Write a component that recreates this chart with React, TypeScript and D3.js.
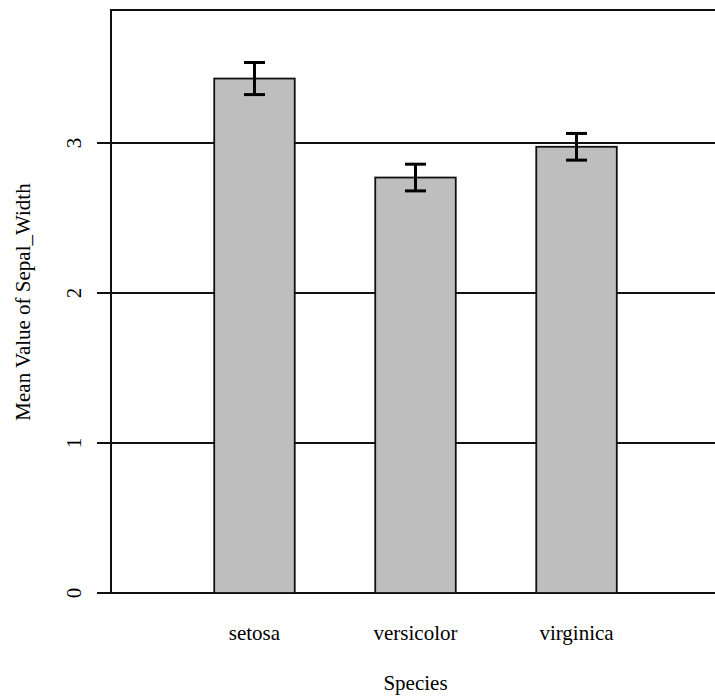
import React, { useEffect, useRef } from "react";
import * as d3 from "d3";

const species = ["setosa", "versicolor", "virginica"];
const meanSepalWidth = [3.43, 2.77, 2.975];
const errorHalfWidth = [0.107, 0.089, 0.089];
const yTicks = [0, 1, 2, 3];

const App = () => {
  const svgRef = useRef<SVGSVGElement>(null);

  useEffect(() => {
    const width = 715;
    const height = 698;
    const plot = { left: 111, right: 720, top: 10, bottom: 593 };
    const font = "'Liberation Serif', 'DejaVu Serif', serif";

    const svg = d3.select(svgRef.current);
    svg.selectAll("*").remove();
    svg.attr("width", width).attr("height", height);

    const x = d3
      .scaleBand<string>()
      .domain(species)
      .range([plot.left, plot.right])
      .paddingInner(0.5)
      .paddingOuter(0.641);

    const y = d3.scaleLinear().domain([0, 3.887]).range([plot.bottom, plot.top]);

    const rows = species.map((s, i) => ({
      name: s,
      mean: meanSepalWidth[i],
      err: errorHalfWidth[i],
    }));

    // horizontal grid lines (tick marks included), under the bars
    svg
      .selectAll(".grid")
      .data(yTicks)
      .enter()
      .append("line")
      .attr("x1", plot.left - 14)
      .attr("x2", plot.right)
      .attr("y1", (d) => y(d))
      .attr("y2", (d) => y(d))
      .attr("stroke", "#111")
      .attr("stroke-width", 2);

    // frame: left and top
    svg
      .append("path")
      .attr("d", `M${plot.left},${plot.bottom}V${plot.top}H${plot.right}`)
      .attr("fill", "none")
      .attr("stroke", "#111")
      .attr("stroke-width", 2);

    // bars
    svg
      .selectAll(".bar")
      .data(rows)
      .enter()
      .append("rect")
      .attr("x", (d) => x(d.name)!)
      .attr("width", x.bandwidth())
      .attr("y", (d) => y(d.mean))
      .attr("height", (d) => y(0) - y(d.mean))
      .attr("fill", "#bebebe")
      .attr("stroke", "#111")
      .attr("stroke-width", 1.8);

    // error bars
    const errG = svg
      .selectAll(".err")
      .data(rows)
      .enter()
      .append("g")
      .attr("stroke", "#000")
      .attr("stroke-width", 3);
    const cx = (d) => x(d.name)! + x.bandwidth() / 2;
    errG
      .append("line")
      .attr("x1", cx)
      .attr("x2", cx)
      .attr("y1", (d) => y(d.mean - d.err))
      .attr("y2", (d) => y(d.mean + d.err));
    errG
      .append("line")
      .attr("x1", (d) => cx(d) - 10.5)
      .attr("x2", (d) => cx(d) + 10.5)
      .attr("y1", (d) => y(d.mean + d.err))
      .attr("y2", (d) => y(d.mean + d.err));
    errG
      .append("line")
      .attr("x1", (d) => cx(d) - 10.5)
      .attr("x2", (d) => cx(d) + 10.5)
      .attr("y1", (d) => y(d.mean - d.err))
      .attr("y2", (d) => y(d.mean - d.err));

    // y tick labels, rotated
    svg
      .selectAll(".ylab")
      .data(yTicks)
      .enter()
      .append("text")
      .attr("transform", (d) => `translate(81, ${y(d)}) rotate(-90)`)
      .attr("text-anchor", "middle")
      .style("font-family", font)
      .style("font-size", "21px")
      .text((d) => d);

    // x tick labels
    svg
      .selectAll(".xlab")
      .data(species)
      .enter()
      .append("text")
      .attr("x", (d) => x(d)! + x.bandwidth() / 2)
      .attr("y", 640)
      .attr("text-anchor", "middle")
      .style("font-family", font)
      .style("font-size", "21px")
      .text((d) => d);

    // axis titles
    svg
      .append("text")
      .attr("x", x("versicolor")! + x.bandwidth() / 2)
      .attr("y", 690)
      .attr("text-anchor", "middle")
      .style("font-family", font)
      .style("font-size", "21px")
      .text("Species");

    svg
      .append("text")
      .attr("transform", `translate(30, 302) rotate(-90)`)
      .attr("text-anchor", "middle")
      .style("font-family", font)
      .style("font-size", "21px")
      .text("Mean Value of Sepal_Width");
  }, []);

  return (
    <svg
      ref={svgRef}
      style={{ position: "absolute", left: 0, top: 0, display: "block", background: "#fff" }}
    ></svg>
  );
};

export default App;
